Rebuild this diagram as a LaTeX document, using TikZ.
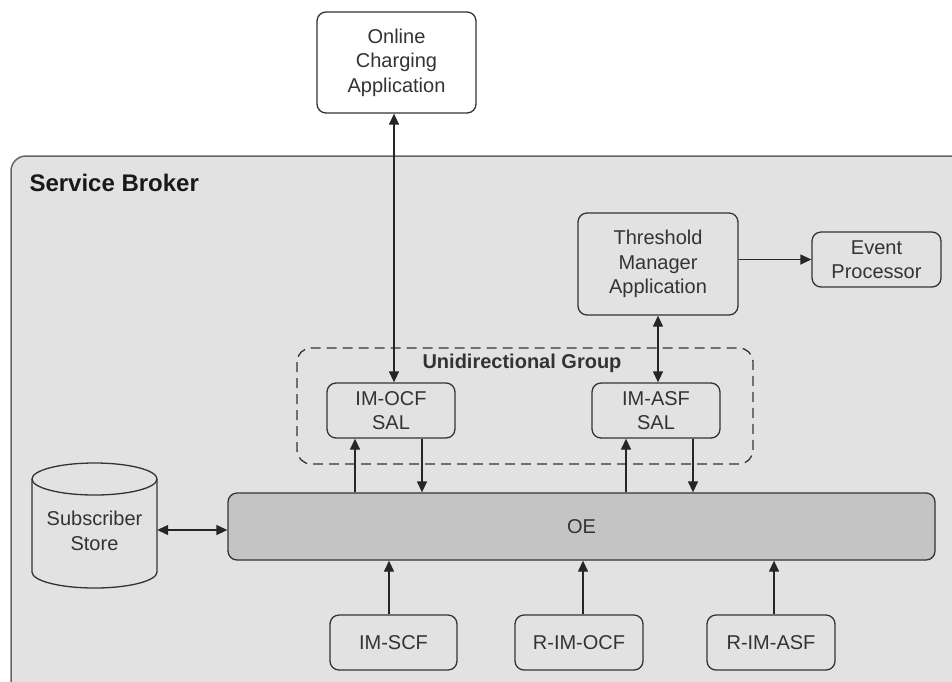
\documentclass[tikz,border=0pt]{standalone}
\usepackage{fontspec}
\setmainfont{Liberation Sans}
\usetikzlibrary{arrows.meta}
\definecolor{brokerfill}{HTML}{E2E2E2}
\definecolor{oefill}{HTML}{C4C4C4}
\definecolor{ink}{HTML}{333333}
\begin{document}
\begin{tikzpicture}[x=1pt,y=-1pt,
  txt/.style={font=\fontsize{20}{24.5}\selectfont, text=ink, align=center},
  box/.style={txt, draw=ink, line width=1.3pt, rounded corners=9pt, inner sep=0pt},
  arr/.style={-{Triangle[length=11pt,width=10pt]}, line width=1.3pt, draw=black!85},
  dbl/.style={{Triangle[length=11pt,width=10pt]}-{Triangle[length=11pt,width=10pt]}, line width=1.3pt, draw=black!85}]
\useasboundingbox (0,0) rectangle (952,681);
\fill[white] (0,0) rectangle (952,681);

% Service Broker container, running off the right and bottom edges
\begin{scope}
  \clip (0,0) rectangle (952,681);
  \draw[fill=brokerfill, draw=black!60, line width=1.5pt, rounded corners=15pt]
    (11,156) rectangle (1000,720);
\end{scope}
\node[anchor=west, font=\fontsize{24}{28}\selectfont\bfseries, text=black!90] (sb) at (26,183) {Service Broker};

% Unidirectional group
\draw[draw=ink, line width=1.3pt, dash pattern=on 10pt off 6pt, rounded corners=14pt]
  (297,348) rectangle (753,464);
\node[font=\fontsize{20}{24}\selectfont\bfseries, text=ink] (ug) at (522,363) {Unidirectional Group};

% Components
\node[box, fill=white, minimum width=159pt, minimum height=101pt] (oca) at (396.5,62.5) {Online\\Charging\\Application};
\node[box, minimum width=160pt, minimum height=102pt] (tma) at (658,264) {Threshold\\Manager\\Application};
\node[box, minimum width=129pt, minimum height=55pt] (ep) at (876.5,259.5) {Event\\Processor};
\node[box, minimum width=128pt, minimum height=55pt] (ocfsal) at (391,410.5) {IM-OCF\\SAL};
\node[box, minimum width=128pt, minimum height=55pt] (asfsal) at (656,410.5) {IM-ASF\\SAL};
\node[box, fill=oefill, minimum width=707pt, minimum height=67pt] (oe) at (581.5,526.5) {OE};
\node[box, minimum width=127pt, minimum height=55pt] (scf) at (393.5,642.5) {IM-SCF};
\node[box, minimum width=128pt, minimum height=55pt] (rocf) at (579,642.5) {R-IM-OCF};
\node[box, minimum width=128pt, minimum height=55pt] (rasf) at (771,642.5) {R-IM-ASF};

% Subscriber store cylinder
\draw[draw=ink, line width=1.3pt]
  (32,479) -- (32,572) arc (180:0:62.5 and 16) -- (157,479);
\draw[draw=ink, line width=1.3pt] (94.5,479) ellipse (62.5 and 16);
\node[txt, minimum width=125pt, minimum height=40pt, inner sep=0pt] (store) at (94.5,531) {Subscriber\\Store};

% Column positions of the connectors
\coordinate (xoca) at (394,0);
\coordinate (xtma) at (658,0);
\coordinate (xo1) at (355,0);
\coordinate (xo2) at (422,0);
\coordinate (xa1) at (626,0);
\coordinate (xa2) at (693,0);
\coordinate (xb1) at (389,0);
\coordinate (xb2) at (583,0);
\coordinate (xb3) at (774,0);
\coordinate (ystore) at (0,530);

% Connectors
\draw[dbl] (oca.south -| xoca) -- (ocfsal.north -| xoca);
\draw[dbl] (tma.south -| xtma) -- (asfsal.north -| xtma);
\draw[arr] (tma.east |- ep.west) -- (ep.west);
\draw[arr] (oe.north -| xo1) -- (ocfsal.south -| xo1);
\draw[arr] (ocfsal.south -| xo2) -- (oe.north -| xo2);
\draw[arr] (oe.north -| xa1) -- (asfsal.south -| xa1);
\draw[arr] (asfsal.south -| xa2) -- (oe.north -| xa2);
\draw[dbl] (store.east |- ystore) -- (oe.west |- ystore);
\draw[arr] (scf.north -| xb1) -- (oe.south -| xb1);
\draw[arr] (rocf.north -| xb2) -- (oe.south -| xb2);
\draw[arr] (rasf.north -| xb3) -- (oe.south -| xb3);
\end{tikzpicture}
\end{document}
